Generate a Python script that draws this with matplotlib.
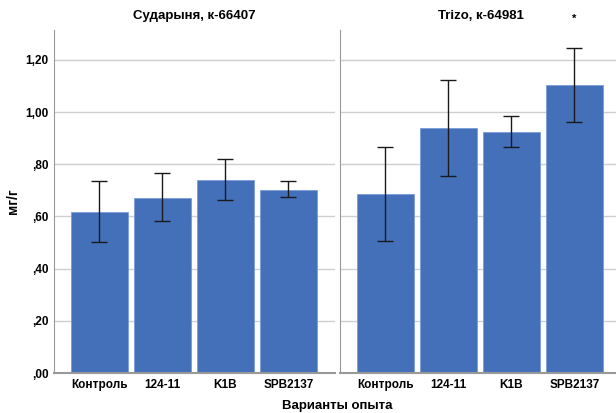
import matplotlib.pyplot as plt
from matplotlib.ticker import FuncFormatter

plt.rcParams['font.family'] = ['Liberation Sans', 'DejaVu Sans']

variants = ['Контроль', '124-11', 'K1B', 'SPB2137']
panels = ['Сударыня, к-66407', 'Trizo, к-64981']

# means and error bar limits (мг/г)
sudarynya_mean = [0.617, 0.672, 0.739, 0.703]
sudarynya_low = [0.502, 0.583, 0.662, 0.674]
sudarynya_high = [0.735, 0.765, 0.819, 0.735]

trizo_mean = [0.685, 0.938, 0.924, 1.103]
trizo_low = [0.506, 0.755, 0.867, 0.964]
trizo_high = [0.865, 1.122, 0.985, 1.245]

yticks = [0.0, 0.2, 0.4, 0.6, 0.8, 1.0, 1.2]

fig = plt.figure(figsize=(6.16, 4.13), dpi=100)
W, H = 616, 413
ax1 = fig.add_axes([54 / W, 1 - 373 / H, 281 / W, 343 / H])
ax2 = fig.add_axes([340 / W, 1 - 373 / H, 281 / W, 343 / H])

bar_color = '#4470BA'

def fmt(v, pos):
    s = f'{v:.2f}'.replace('.', ',')
    return s[1:] if s.startswith('0') else s

data = [(sudarynya_mean, sudarynya_low, sudarynya_high),
        (trizo_mean, trizo_low, trizo_high)]

for ax, title, (m, lo, hi) in zip([ax1, ax2], panels, data):
    x = list(range(len(variants)))
    err = [[a - b for a, b in zip(m, lo)], [c - a for a, c in zip(m, hi)]]
    ax.bar(x, m, width=0.9, color=bar_color, edgecolor='#7a9bd6', linewidth=0.6, zorder=2)
    ax.errorbar(x, m, yerr=err, fmt='none', ecolor='#1a1a1a', elinewidth=1.0,
                capsize=5.5, capthick=1.0, zorder=3)
    ax.set_xlim(-0.72, 3.74)
    ax.set_ylim(0, 1.315)
    ax.set_yticks(yticks)
    ax.yaxis.set_major_formatter(FuncFormatter(fmt))
    ax.set_xticks(x)
    ax.set_xticklabels(variants, fontsize=8.5, fontweight='bold')
    ax.grid(axis='y', color='#cfcfcf', linewidth=1.0, zorder=0)
    ax.set_axisbelow(True)
    for s in ['top', 'right']:
        ax.spines[s].set_visible(False)
    ax.spines['left'].set_color('#999999')
    ax.spines['bottom'].set_color('#999999')
    ax.spines['bottom'].set_linewidth(1.5)
    ax.tick_params(length=0, labelsize=8.5, pad=4)
    for lab in ax.get_yticklabels():
        lab.set_fontweight('bold')
    ax.set_title(title, fontsize=9.5, fontweight='bold', pad=8)

ax2.tick_params(labelleft=False)
ax2.text(3, 1.34, '*', ha='center', va='bottom', fontsize=8, fontweight='bold')

ax1.set_ylabel('мг/г', fontsize=10, fontweight='bold')
ax1.yaxis.set_label_coords(-0.122, 0.5)
fig.text(337 / W, 1 - 406 / H, 'Варианты опыта', ha='center', va='center',
         fontsize=9.5, fontweight='bold')

fig.savefig('out.png', dpi=100)
